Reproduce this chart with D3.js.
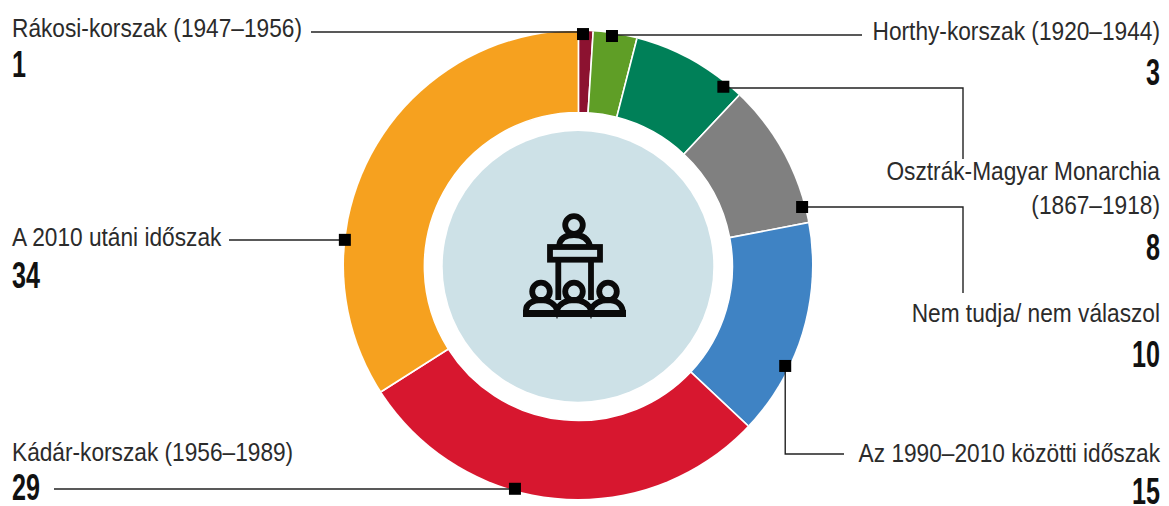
<!DOCTYPE html>
<html><head><meta charset="utf-8">
<script src="https://cdn.jsdelivr.net/npm/d3@7"></script>
<style>html,body{margin:0;background:#fff}svg{display:block}
.lab{font-family:"Liberation Sans",sans-serif;font-size:25.5px;fill:#2b2b2b}
.num{font-family:"Liberation Sans",sans-serif;font-weight:700;font-size:37px;fill:#111}
</style></head><body>
<svg id="c" width="1169" height="506"></svg>
<script>
const categories=["Rákosi-korszak (1947–1956)","Horthy-korszak (1920–1944)","Osztrák-Magyar Monarchia (1867–1918)","Nem tudja/ nem válaszol","Az 1990–2010 közötti időszak","Kádár-korszak (1956–1989)","A 2010 utáni időszak"];
const values=[1,3,8,10,15,29,34];
const colors=["#8c1230","#5f9e26","#008058","#808080","#3f83c4","#d7172f","#f6a11f"];
const markerFrac=[.344,.448,.861,.897,.681,.599,.315];
const markerR=[231,231.5,230,231.5,230.5,232.5,234.5];

const svg=d3.select("#c");
const cx=578,cy=265,R=234,r0=154,r1=135.3;
const icx=578.4,icy=266.5;
svg.append("clipPath").attr("id","outer").append("circle").attr("cx",cx).attr("cy",cy).attr("r",R);
const pie=d3.pie().sort(null).value(d=>d)(values);
const arc=d3.arc().innerRadius(r0).outerRadius(R+4);
const g=svg.append("g").attr("clip-path","url(#outer)").append("g").attr("transform",`translate(${icx},${icy})`);
g.selectAll("path").data(pie).join("path").attr("d",arc)
 .attr("fill",(d,i)=>colors[i]).attr("stroke","#fff").attr("stroke-width",1.6);
svg.append("circle").attr("cx",578).attr("cy",266.4).attr("r",r1).attr("fill","#cde1e7");

const pts=pie.map((d,i)=>{const a=d.startAngle+(d.endAngle-d.startAngle)*markerFrac[i];
 return [cx+markerR[i]*Math.sin(a),cy-markerR[i]*Math.cos(a)];});
const line=d3.line();
const leaders=[
 [[311,32],[pts[0][0],32]],
 [[pts[1][0],35],[862,35]],
 [[pts[2][0],88],[963,88],[963,159]],
 [[pts[3][0],207],[963,207],[963,293]],
 [[pts[4][0],pts[4][1]],[pts[4][0],454],[844,454]],
 [[54,489],[pts[5][0],489]],
 [[229,240],[pts[6][0],240]]];
svg.append("g").selectAll("path").data(leaders).join("path").attr("d",d=>line(d))
 .attr("fill","none").attr("stroke","#222").attr("stroke-width",1.4);
svg.append("g").selectAll("rect").data(pts).join("rect")
 .attr("x",d=>d[0]-6).attr("y",d=>d[1]-6).attr("width",12).attr("height",12).attr("fill","#000");

const labels=[
 {t:["Rákosi-korszak (1947–1956)"],x:12,y:[37],a:"start",ny:77},
 {t:["Horthy-korszak (1920–1944)"],x:1160,y:[40],a:"end",ny:85},
 {t:["Osztrák-Magyar Monarchia","(1867–1918)"],x:1160,y:[180,214],a:"end",ny:260},
 {t:["Nem tudja/ nem válaszol"],x:1160,y:[322],a:"end",ny:367},
 {t:["Az 1990–2010 közötti időszak"],x:1160,y:[462],a:"end",ny:504},
 {t:["Kádár-korszak (1956–1989)"],x:12,y:[461],a:"start",ny:500},
 {t:["A 2010 utáni időszak"],x:12,y:[246],a:"start",ny:288}];
const labScale=0.89,numScale=0.68;
const tg=svg.append("g");
labels.forEach((l,i)=>{
 l.t.forEach((s,j)=>tg.append("text").attr("class","lab").attr("transform",`translate(${l.x},${l.y[j]}) scale(${labScale},1)`).attr("text-anchor",l.a).text(s));
 tg.append("text").attr("class","num").attr("transform",`translate(${l.x},${l.ny}) scale(${numScale},1)`).attr("text-anchor",l.a).text(values[i]);
});

// icon
const ic=svg.append("g").attr("fill","none").attr("stroke","#0a0a0a").attr("stroke-width",5.8);
[[574,225],[541,291.5],[574,291.5],[608,291.5]].forEach(p=>ic.append("circle").attr("cx",p[0]).attr("cy",p[1]).attr("r",8.8));
ic.append("rect").attr("x",550).attr("y",247).attr("width",50).attr("height",12.7);
ic.append("path").attr("d","M558.3 260V300M591 260V300");
ic.append("path").attr("d","M559 246C560 238 566 235 574 235C582 235 588 238 590 246");
ic.append("path").attr("d","M526 314V310C526 304 533 300 541 300C549 300 555 304 557 310C559 304 566 300 574 300C582 300 589 304 591 310C593 304 600 300 608 300C616 300 623 304 623 314");
ic.append("path").attr("d","M523 313.5H626").attr("stroke-width",7);
</script></body></html>
